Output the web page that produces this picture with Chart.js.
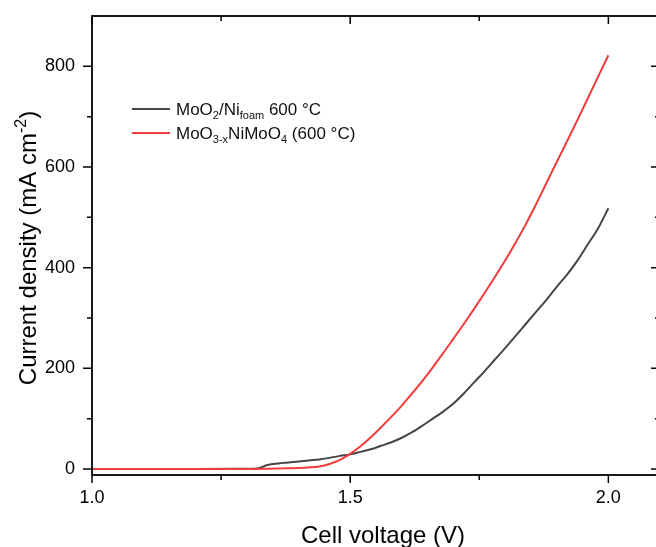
<!DOCTYPE html>
<html>
<head>
<meta charset="utf-8">
<script src="https://cdn.jsdelivr.net/npm/chart.js@4"></script>
<style>
  html, body { margin: 0; padding: 0; background: #fff; overflow: hidden; }
  #wrap { width: 680px; height: 547px; }
</style>
</head>
<body>
<div id="wrap"><canvas id="ivCanvas" width="680" height="547"></canvas></div>
<script>
const voltage = [1.00, 1.10, 1.20, 1.30, 1.32, 1.34, 1.36, 1.38, 1.40, 1.42, 1.44, 1.46, 1.48,
  1.50, 1.52, 1.54, 1.56, 1.58, 1.60, 1.62, 1.64, 1.66, 1.68, 1.70, 1.72, 1.74, 1.76,
  1.78, 1.80, 1.82, 1.84, 1.86, 1.88, 1.90, 1.92, 1.94, 1.96, 1.98, 2.00];

// MoO2/Ni foam 600 °C
const moo2Current = [0, 0, 0, 0.5, 1, 8, 11, 13, 15, 17, 19, 22, 26,
  29, 34, 39, 46, 53, 62, 73, 86, 100, 114, 130, 150, 172, 194,
  217, 240, 264, 288, 312, 336, 362, 386, 414, 446, 478, 518];

// MoO3-x NiMoO4 (600 °C)
const nimooCurrent = [0, 0, 0, 0, 0, 0.5, 1, 1.5, 2, 3, 5, 10, 18,
  30, 45, 63, 83, 104, 126, 150, 175, 202, 230, 259, 288, 318, 349,
  381, 414, 449, 486, 526, 568, 610, 651, 693, 736, 779, 822];

const xMajor = [1.0, 1.5, 2.0];
const xMinor = [1.25, 1.75];
const yMajor = [0, 200, 400, 600, 800];
const yMinor = [100, 300, 500, 700];

const FONT = "'Liberation Sans', Arial, sans-serif";

const toPoints = (ys) => voltage.map((v, i) => ({ x: v, y: ys[i] }));

// frame, mirrored ticks, titles and legend with sub/superscripts
const decorPlugin = {
  id: "decor",
  afterDraw(chart) {
    const ctx = chart.ctx;
    const a = chart.chartArea;
    const xs = chart.scales.x, ys = chart.scales.y;
    ctx.save();
    ctx.strokeStyle = "#000";
    ctx.lineWidth = 1.8;
    ctx.strokeRect(a.left, a.top, a.right - a.left, a.bottom - a.top);

    ctx.lineWidth = 1.5;
    ctx.beginPath();
    const xt = (vals, len) => vals.forEach((v) => {
      const px = xs.getPixelForValue(v);
      ctx.moveTo(px, a.bottom); ctx.lineTo(px, a.bottom + len);
      ctx.moveTo(px, a.top); ctx.lineTo(px, a.top + len);
    });
    const yt = (vals, len) => vals.forEach((v) => {
      const py = ys.getPixelForValue(v);
      ctx.moveTo(a.left, py); ctx.lineTo(a.left - len, py);
      ctx.moveTo(a.right, py); ctx.lineTo(a.right - len, py);
    });
    xt(xMajor, 8); xt(xMinor, 5);
    yt(yMajor, 9); yt(yMinor, 5);
    ctx.stroke();

    // rich text helper: parts = [[text, kind]] kind: n, sub, sup
    const rich = (parts, x, y, size) => {
      let cx = x;
      parts.forEach(([t, k]) => {
        const s = k === "n" ? size : Math.round(size * 0.65);
        const dy = k === "sub" ? size * 0.22 : k === "sup" ? -size * 0.42 : 0;
        ctx.font = s + "px " + FONT;
        ctx.fillText(t, cx, y + dy);
        cx += ctx.measureText(t).width;
      });
      return cx - x;
    };
    const richWidth = (parts, size) => {
      let w = 0;
      parts.forEach(([t, k]) => {
        const s = k === "n" ? size : Math.round(size * 0.65);
        ctx.font = s + "px " + FONT;
        w += ctx.measureText(t).width;
      });
      return w;
    };

    ctx.fillStyle = "#000";
    ctx.textBaseline = "alphabetic";
    ctx.textAlign = "left";

    // x title
    const xTitle = [["Cell voltage (V)", "n"]];
    const xw = richWidth(xTitle, 24);
    rich(xTitle, 383 - xw / 2, 543, 24);

    // y title
    const yTitle = [["Current density (mA cm", "n"], ["-2", "sup"], [")", "n"]];
    const yw = richWidth(yTitle, 24);
    ctx.save();
    ctx.translate(36, 248);
    ctx.rotate(-Math.PI / 2);
    rich(yTitle, -yw / 2, 0, 24);
    ctx.restore();

    // legend
    const legendRows = [
      { color: chart.data.datasets[0].borderColor, y: 109,
        parts: [["MoO", "n"], ["2", "sub"], ["/Ni", "n"], ["foam", "sub"], [" 600 °C", "n"]] },
      { color: chart.data.datasets[1].borderColor, y: 133,
        parts: [["MoO", "n"], ["3-x", "sub"], ["NiMoO", "n"], ["4", "sub"], [" (600 °C)", "n"]] },
    ];
    legendRows.forEach((r) => {
      ctx.strokeStyle = r.color;
      ctx.lineWidth = 2;
      ctx.beginPath();
      ctx.moveTo(132, r.y); ctx.lineTo(170, r.y);
      ctx.stroke();
      ctx.fillStyle = "#111";
      rich(r.parts, 176, r.y + 6, 17);
    });
    ctx.restore();
  },
};

const config = {
  type: "line",
  data: {
    datasets: [
      {
        label: "MoO2/Ni foam 600 °C",
        data: toPoints(moo2Current),
        borderColor: "#464646",
        borderWidth: 2,
        pointRadius: 0,
        cubicInterpolationMode: "monotone",
        order: 1,
      },
      {
        label: "MoO3-xNiMoO4 (600 °C)",
        data: toPoints(nimooCurrent),
        borderColor: "#f23b3b",
        borderWidth: 2,
        pointRadius: 0,
        cubicInterpolationMode: "monotone",
        order: 0,
      },
    ],
  },
  options: {
    responsive: false,
    animation: false,
    layout: { padding: { top: 16, right: 20, left: 0, bottom: 0 } },
    plugins: { legend: { display: false }, tooltip: { enabled: false } },
    scales: {
      x: {
        type: "linear",
        min: 1.0,
        max: 2.1,
        grid: { display: false, drawTicks: false },
        border: { display: false },
        afterBuildTicks: (s) => { s.ticks = xMajor.map((v) => ({ value: v })); },
        afterFit: (s) => { s.height = 72; s.paddingLeft = 0; s.paddingRight = 0; },
        ticks: {
          padding: 12,
          maxRotation: 0,
          color: "#000",
          font: { family: FONT, size: 18 },
          callback: (v) => v.toFixed(1),
        },
      },
      y: {
        min: -12,
        max: 900,
        grid: { display: false, drawTicks: false },
        border: { display: false },
        afterBuildTicks: (s) => { s.ticks = yMajor.map((v) => ({ value: v })); },
        afterFit: (s) => { s.width = 92; s.paddingTop = 0; s.paddingBottom = 0; },
        ticks: {
          padding: 17,
          color: "#000",
          font: { family: FONT, size: 18 },
        },
      },
    },
  },
  plugins: [decorPlugin],
};

const canvas = document.getElementById("ivCanvas");
if (canvas) {
  new Chart(canvas.getContext("2d"), config);
} else {
  console.error("canvas not found");
}
</script>
</body>
</html>
